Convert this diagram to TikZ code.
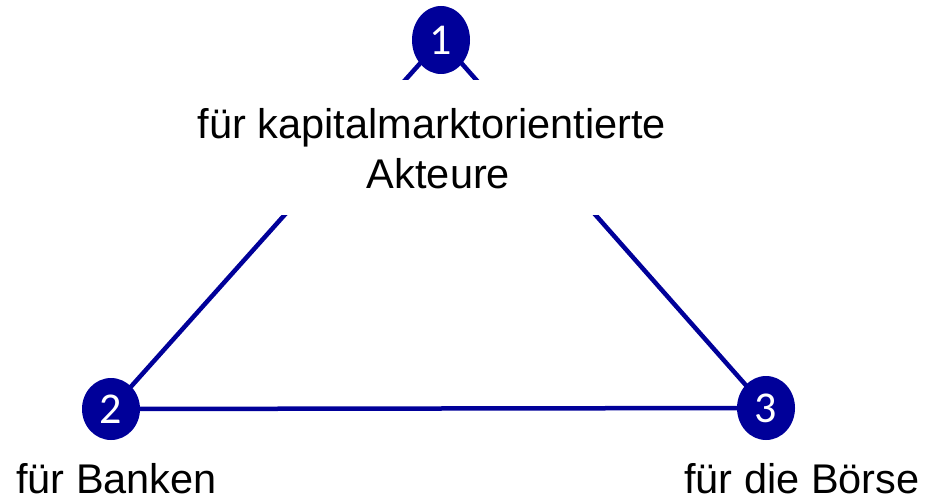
\documentclass[tikz,border=0pt]{standalone}
\usepackage{fontspec}
\setmainfont{Liberation Sans}
\newfontfamily\digitfont{Carlito}
\usetikzlibrary{shapes.geometric}
\definecolor{navy}{RGB}{0,0,153}
\begin{document}
\begin{tikzpicture}[x=1pt,y=-1pt,
  numdot/.style={ellipse, fill=navy, inner sep=0pt, minimum width=58pt, minimum height=64pt, text=white, font=\digitfont\fontsize{44}{44}\selectfont},
  lbl/.style={inner sep=0pt, font=\fontsize{41.5}{50}\selectfont},
  link/.style={draw=navy, line width=4.5pt},
  cover/.style={fill=white, draw=none, inner sep=0pt}]
\useasboundingbox (0,0) rectangle (928,500);
\coordinate (p1) at (441,40);
\coordinate (p2) at (111,409);
\coordinate (p3) at (766,408);
\draw[link] (p1) -- (p2);
\draw[link] (p2) -- (p3);
\draw[link] (p3) -- (p1);
\node[cover, minimum width=500pt, minimum height=135pt] (bg) at (440,147.5) {};
\node[lbl, anchor=base] (t1) at (432,138) {für kapitalmarktorientierte};
\node[lbl, anchor=base] (t2) at (438.5,188) {Akteure};
\node[numdot, minimum height=68pt] (n1) at (p1) {1};
\node[numdot, minimum height=62pt] (n2) at (p2) {2};
\node[numdot] (n3) at (p3) {3};
\node[lbl, anchor=base west] (b1) at (16,493) {für Banken};
\node[lbl, anchor=base west] (b2) at (684,493) {für die Börse};
\end{tikzpicture}
\end{document}
